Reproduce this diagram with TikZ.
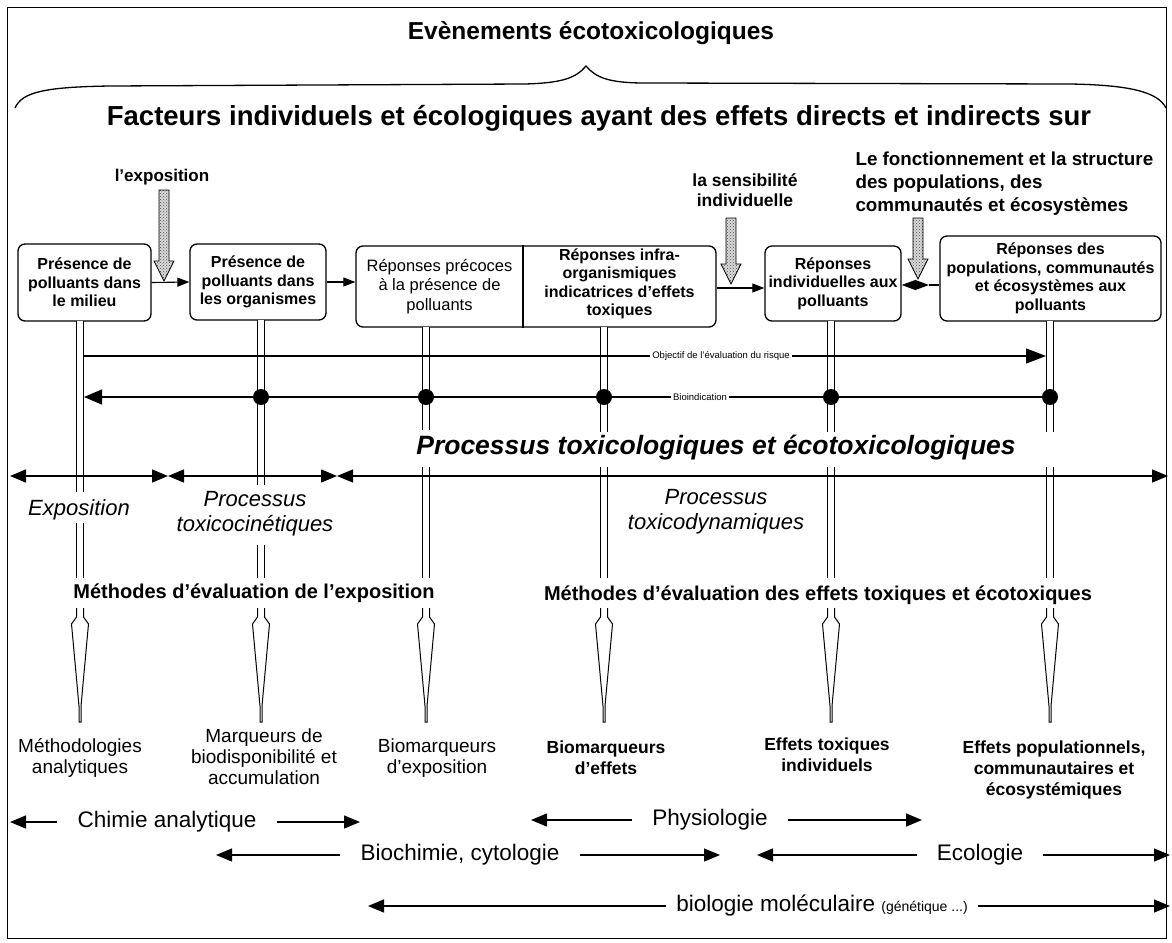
\documentclass[tikz,border=0pt]{standalone}
\usepackage{fontspec}
\setmainfont{Liberation Sans}
\usetikzlibrary{arrows.meta,patterns}
\newcommand{\grarrow}[3]{\draw[greyarr] ({#1-5},#2) -- ({#1+5},#2) -- ({#1+5},{#3-20}) -- ({#1+10},{#3-20}) -- (#1,#3) -- ({#1-10},{#3-20}) -- ({#1-5},{#3-20}) -- cycle;}
\begin{document}
\begin{tikzpicture}[x=1pt,y=-1pt,
  box/.style={draw, line width=1.3pt, rounded corners=7pt, inner sep=0pt, align=center, font=\fontsize{16}{18.5}\selectfont\bfseries},
  btxt/.style={align=center, inner sep=0pt, font=\fontsize{16}{18.5}\selectfont\bfseries},
  dl/.style={draw, double, double distance=5.4pt, line width=0.9pt},
  con/.style={line width=1.1pt, -{Triangle[length=12pt,width=9pt]}},
  greyarr/.style={draw=black, line width=0.8pt, preaction={fill=gray!30}, pattern=crosshatch dots, pattern color=gray!60!black},
  spike/.style={draw, line width=1pt, fill=white},
  disc/.style={font=\fontsize{22.5}{26}\selectfont, inner xsep=20pt, inner ysep=0pt},
  darr/.style={line width=1.4pt, -{Triangle[length=16pt,width=13pt]}},
  parr/.style={line width=1.4pt, {Triangle[length=16pt,width=13pt]}-{Triangle[length=16pt,width=13pt]}},
  lab/.style={align=center, font=\fontsize{19}{21}\selectfont},
  labb/.style={align=center, font=\fontsize{17.5}{21}\selectfont\bfseries},
  tiny/.style={fill=white, inner sep=2pt, font=\fontsize{9.5}{11}\selectfont},
  proc/.style={align=center, font=\fontsize{22}{25}\selectfont\itshape},
  meth/.style={font=\fontsize{20}{24}\selectfont\bfseries},
]
\useasboundingbox (0,0) rectangle (1172,942);
% frame
\draw[line width=1pt] (7,8) rectangle (1166,938);
% title and brace
\node[font=\fontsize{24.5}{28}\selectfont\bfseries] (title) at (591,33) {Evènements écotoxicologiques};
\draw[line width=1.3pt] (15,108) .. controls (22,92) and (45,87) .. (110,86) -- (525,84)
  .. controls (562,83) and (576,78) .. (586,66) .. controls (596,78) and (610,83) .. (645,83)
  -- (1070,84) .. controls (1130,85) and (1158,92) .. (1166,108);
\node[font=\fontsize{27.5}{32}\selectfont\bfseries] (fact) at (599,118) {Facteurs individuels et écologiques ayant des effets directs et indirects sur};
% top labels
\node[font=\fontsize{17}{20}\selectfont\bfseries] (lexp) at (162,177) {l'exposition};
\node[align=center, font=\fontsize{17.5}{20}\selectfont\bfseries] (lsens) at (745,190) {la sensibilité\\individuelle};
\node[align=left, anchor=west, font=\fontsize{18.8}{23}\selectfont\bfseries] (lfonc) at (852,184) {Le fonctionnement et la structure\\des populations, des\\communautés et écosystèmes};
% boxes
\node[box, minimum width=133pt, minimum height=77pt] (B1) at (84.5,282.5) {Présence de\\polluants dans\\le milieu};
\node[box, minimum width=136pt, minimum height=76pt] (B2) at (258,282) {Présence de\\polluants dans\\les organismes};
\node[box, minimum width=360pt, minimum height=81pt] (B3) at (536,286.5) {};
\coordinate (dv) at (523,0);
\draw[line width=1.2pt] (dv |- B3.north) -- (dv |- B3.south);
\node[btxt, font=\fontsize{16.5}{19.5}\selectfont] (B3a) at (439.5,286.5) {Réponses précoces\\à la présence de\\polluants};
\node[btxt] (B3b) at (619.5,284) {Réponses infra-\\organismiques\\indicatrices d'effets\\toxiques};
\node[box, minimum width=136pt, minimum height=75pt] (B4) at (833,283.5) {Réponses\\individuelles aux\\polluants};
\node[box, minimum width=221pt, minimum height=85pt] (B5) at (1050.5,278.5) {Réponses des\\populations, communautés\\et écosystèmes aux\\polluants};
% double vertical lines
\draw[dl] (80,321) -- (80,492);  \draw[dl] (80,523) -- (80,578);
\draw[dl] (261,320) -- (261,485); \draw[dl] (261,545) -- (261,578);
\draw[dl] (426,327) -- (426,430); \draw[dl] (426,467) -- (426,578);
\draw[dl] (604,327) -- (604,432); \draw[dl] (604,467) -- (604,578);
\draw[dl] (831,321) -- (831,432); \draw[dl] (831,467) -- (831,578);
\draw[dl] (1050,321) -- (1050,432); \draw[dl] (1050,467) -- (1050,578);
% connectors between boxes
\draw[con] (B1.east) -- (B2.west);
\draw[con] (B2.east) -- (B2.east -| B3.west);
\draw[con] ([yshift=-1.5pt]B3.east) -- ([yshift=-1.5pt]B3.east -| B4.west);
\coordinate (dm) at (929,0);
\draw[line width=1.1pt, {Triangle[length=14pt,width=10pt]}-{Triangle[length=14pt,width=10pt]}] ([yshift=-1.5pt]B4.east) -- ([yshift=-1.5pt]B4.east -| dm);
\draw[line width=1.1pt] ([yshift=-1.5pt]B4.east -| dm) -- ([yshift=-1.5pt]B4.east -| B5.west);
% grey arrows
\grarrow{164}{190}{281}
\grarrow{731}{218}{284}
\grarrow{918}{218}{279}
% objectif and bioindication
\coordinate (oL) at (84,356); \coordinate (oR) at (1046,356);
\draw[line width=1.3pt, -{Triangle[length=20pt,width=15pt]}] (oL) -- (oR);
\node[tiny] (obj) at (721,356) {Objectif de l'évaluation du risque};
\coordinate (bL) at (84,397); \coordinate (bR) at (1058,397);
\draw[line width=1.3pt, -{Triangle[length=18pt,width=15pt]}] (bR) -- (bL);
\node[tiny] (bio) at (700,397) {Bioindication};
\foreach \x in {261,426,604,831,1050} \fill (\x,397) circle (8pt);
% processus
\node[font=\fontsize{26.5}{30}\selectfont\bfseries\itshape] (proctox) at (716,448) {Processus toxicologiques et écotoxicologiques};
\coordinate (p0) at (10,476); \coordinate (p1) at (168,476); \coordinate (p2) at (337,476); \coordinate (p3) at (1168,476);
\draw[parr] (p0) -- (p1);
\draw[parr] (p1) -- (p2);
\draw[parr] (p2) -- (p3);
\node[proc] (pexpo) at (79,510) {Exposition};
\node[proc] (pcin) at (255,514) {Processus\\toxicocinétiques};
\node[proc] (pdyn) at (716,512) {Processus\\toxicodynamiques};
% methodes
\node[meth] (m1) at (254,593) {Méthodes d'évaluation de l'exposition};
\node[meth] (m2) at (818,595) {Méthodes d'évaluation des effets toxiques et écotoxiques};
% spikes
\foreach \x in {80,261,426,604,831,1050} {
  \draw[spike] ({\x-3.5},608) -- ({\x-3.5},617) -- ({\x-8.5},624) -- ({\x-1},706) -- ({\x-1},722) -- ({\x+1},722) -- ({\x+1},706) -- ({\x+8.5},624) -- ({\x+3.5},617) -- ({\x+3.5},608);
}
% bottom labels
\node[lab] (t1) at (80,758) {Méthodologies\\analytiques};
\node[lab] (t2) at (264,757) {Marqueurs de\\biodisponibilité et\\accumulation};
\node[lab] (t3) at (437,758) {Biomarqueurs\\d'exposition};
\node[labb] (t4) at (606,758) {Biomarqueurs\\d'effets};
\node[labb] (t5) at (827,755) {Effets toxiques\\individuels};
\node[labb] (t6) at (1054,770) {Effets populationnels,\\communautaires et\\écosystémiques};
% disciplines
\node[disc] (chim) at (167,822) {Chimie analytique};
\coordinate (chL) at (10,822); \coordinate (chR) at (360,822);
\draw[darr] (chim.west) -- (chL); \draw[darr] (chim.east) -- (chR);
\node[disc] (phys) at (710,820) {Physiologie};
\coordinate (phL) at (531,820); \coordinate (phR) at (922,820);
\draw[darr] (phys.west) -- (phL); \draw[darr] (phys.east) -- (phR);
\node[disc] (bioc) at (460,855) {Biochimie, cytologie};
\coordinate (bcL) at (216,855); \coordinate (bcR) at (720,855);
\draw[darr] (bioc.west) -- (bcL); \draw[darr] (bioc.east) -- (bcR);
\node[disc] (ecol) at (980,855) {Ecologie};
\coordinate (ecL) at (757,855); \coordinate (ecR) at (1170,855);
\draw[darr] (ecol.west) -- (ecL); \draw[darr] (ecol.east) -- (ecR);
\node[disc, inner xsep=10pt] (biom) at (822,906) {biologie moléculaire \fontsize{14}{16}\selectfont (génétique ...)};
\coordinate (bmL) at (368,906); \coordinate (bmR) at (1170,906);
\draw[darr] (biom.west) -- (bmL); \draw[darr] (biom.east) -- (bmR);
\end{tikzpicture}
\end{document}
